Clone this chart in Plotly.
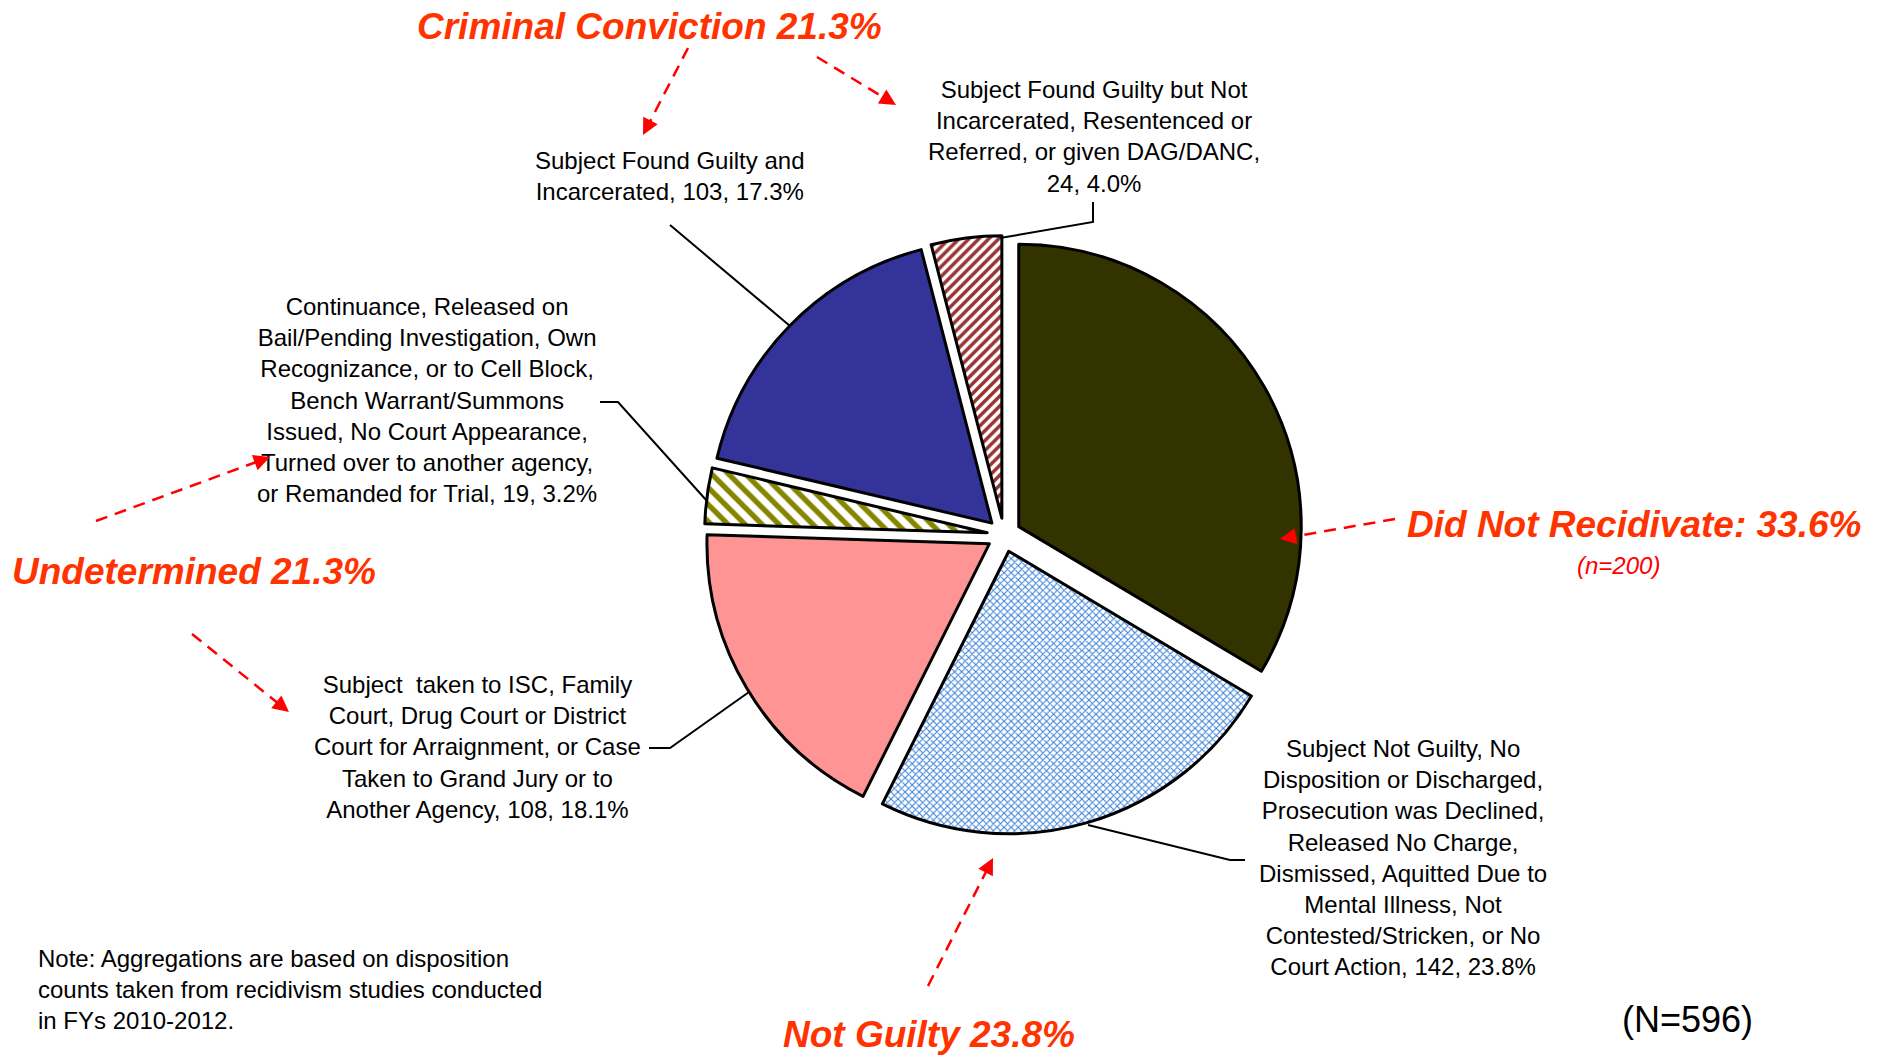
import math
import plotly.graph_objects as go

W, H = 1885, 1056

# ---------------- data ----------------
categories = [
    "Did Not Recidivate",
    "Not Guilty",
    "Subject taken to ISC / Court / Another Agency",
    "Continuance / Released / Warrant / Remanded",
    "Subject Found Guilty and Incarcerated",
    "Subject Found Guilty but Not Incarcerated",
]
counts = [200, 142, 108, 19, 103, 24]

label_templates = [
    None,
    "Subject Not Guilty, No<br>Disposition or Discharged,<br>Prosecution was Declined,<br>Released No Charge,<br>"
    "Dismissed, Aquitted Due to<br>Mental Illness, Not<br>Contested/Stricken, or No<br>Court Action, {n}, {p}",
    "Subject  taken to ISC, Family<br>Court, Drug Court or District<br>Court for Arraignment, or Case<br>"
    "Taken to Grand Jury or to<br>Another Agency, {n}, {p}",
    "Continuance, Released on<br>Bail/Pending Investigation, Own<br>Recognizance, or to Cell Block,<br>"
    "Bench Warrant/Summons<br>Issued, No Court Appearance,<br>Turned over to another agency,<br>"
    "or Remanded for Trial, {n}, {p}",
    "Subject Found Guilty and<br>Incarcerated, {n}, {p}",
    "Subject Found Guilty but Not<br>Incarcerated, Resentenced or<br>Referred, or given DAG/DANC,<br>{n}, {p}",
]

total = sum(counts)
group_names = ["Did Not Recidivate: ", "Not Guilty ", "Undetermined ", "Criminal Conviction "]
group_members = [[0], [1], [2, 3], [4, 5]]

# ---------------- styles ----------------
slice_colors = ["#333300", "#FFFFFF", "#FF9494", "#FFFFFF", "#333399", "#FFFFFF"]
pat_shape = ["", "x", "", "\\", "", "/"]
pat_fg = ["#333300", "#3A80D8", "#FF9494", "#858500", "#333399", "#993333"]
pat_bg = ["#333300", "#FFFFFF", "#FF9494", "#FFFFFF", "#333399", "#FFFFFF"]
pat_size = [8, 5, 8, 12, 8, 7]
pat_sol = [0.3, 0.38, 0.3, 0.45, 0.3, 0.5]

FONT = "Liberation Sans, Arial, sans-serif"
RED_HEAD = "#FF3300"


def P(x, y):
    return x / W, 1 - y / H


# pie geometry (pixels)
cx, cy, r_px, pull = 1004, 535, 282.5, 0.06
r0 = r_px * (1 + pull)
dx0, dy1 = P(cx - r0, cy - r0)
dx1, dy0 = P(cx + r0, cy + r0)

fig = go.Figure(go.Pie(
    labels=categories,
    values=counts,
    sort=False,
    direction="clockwise",
    rotation=0,
    pull=[pull] * len(counts),
    textinfo="none",
    hoverinfo="label+value+percent",
    showlegend=False,
    domain=dict(x=[dx0, dx1], y=[dy0, dy1]),
    marker=dict(
        colors=slice_colors,
        line=dict(color="#000000", width=3),
        pattern=dict(shape=pat_shape, fgcolor=pat_fg, bgcolor=pat_bg,
                     size=pat_size, solidity=pat_sol),
    ),
))

annotations = []
shapes = []


def pct(idx):
    return f"{sum(counts[i] for i in idx) / total * 100:.1f}%"


def text_ann(x, y, text, size, color="#000000", xanchor="center", align="center"):
    X, Y = P(x, y)
    annotations.append(dict(x=X, y=Y, xref="paper", yref="paper", text=text,
                            showarrow=False, xanchor=xanchor, yanchor="middle",
                            align=align, font=dict(family=FONT, size=size, color=color)))


# slice labels
label_pos = [None, (1403, 857), (477, 747), (427, 400), (670, 176), (1094, 136)]
for i, tpl in enumerate(label_templates):
    if tpl is None:
        continue
    txt = tpl.format(n=counts[i], p=f"{counts[i] / total * 100:.1f}%")
    text_ann(label_pos[i][0], label_pos[i][1], txt, 24)

# group headings
head_pos = [(1634, 524), (929, 1034), (194, 571), (649, 27)]
for name, mem, pos in zip(group_names, group_members, head_pos):
    text_ann(pos[0], pos[1], f"<b><i>{name}{pct(mem)}</i></b>", 37, RED_HEAD)

text_ann(1618, 565, f"<i>(n={counts[0]})</i>", 24, "#FF0000")
text_ann(36, 989, "Note: Aggregations are based on disposition<br>counts taken from recidivism studies conducted<br>in FYs 2010-2012.",
         24, xanchor="left", align="left")
text_ann(1687, 1019, f"(N={total})", 36)

# leader lines
leaders = [
    [(670, 225), (790, 326)],
    [(1093, 202), (1093, 222), (1000, 238)],
    [(600, 402), (618, 402), (707, 501)],
    [(649, 748), (670, 748), (749, 692)],
    [(1088, 825), (1230, 860), (1245, 860)],
]
for pts in leaders:
    path = ""
    for k, (x, y) in enumerate(pts):
        X, Y = P(x, y)
        path += ("M" if k == 0 else " L") + f"{X:.5f},{Y:.5f}"
    shapes.append(dict(type="path", xref="paper", yref="paper", path=path,
                       line=dict(color="#000000", width=2)))

# dashed red arrows
arrows = [
    ((688, 48), (643, 135)),
    ((817, 57), (896, 105)),
    ((96, 521), (270, 457)),
    ((192, 634), (289, 712)),
    ((928, 986), (993, 858)),
    ((1395, 519), (1280, 539)),
]
for (x0, y0), (x1, y1) in arrows:
    L = math.hypot(x1 - x0, y1 - y0)
    ux, uy = (x1 - x0) / L, (y1 - y0) / L
    X0, Y0 = P(x0, y0)
    Xe, Ye = P(x1 - ux * 12, y1 - uy * 12)
    shapes.append(dict(type="line", xref="paper", yref="paper", x0=X0, y0=Y0, x1=Xe, y1=Ye,
                       line=dict(color="#FF0000", width=2.5, dash="12px,8px")))
    X1, Y1 = P(x1, y1)
    annotations.append(dict(x=X1, y=Y1, xref="paper", yref="paper", text="", showarrow=True,
                            arrowhead=2, arrowsize=1.3, arrowwidth=2.5, arrowcolor="#FF0000",
                            ax=-ux * 16, ay=-uy * 16))

fig.update_layout(
    width=W, height=H,
    margin=dict(l=0, r=0, t=0, b=0),
    paper_bgcolor="#FFFFFF",
    plot_bgcolor="#FFFFFF",
    annotations=annotations,
    shapes=shapes,
)

fig.write_html("out.html", config={"displayModeBar": False},
               post_script="document.body.style.margin='0';")
